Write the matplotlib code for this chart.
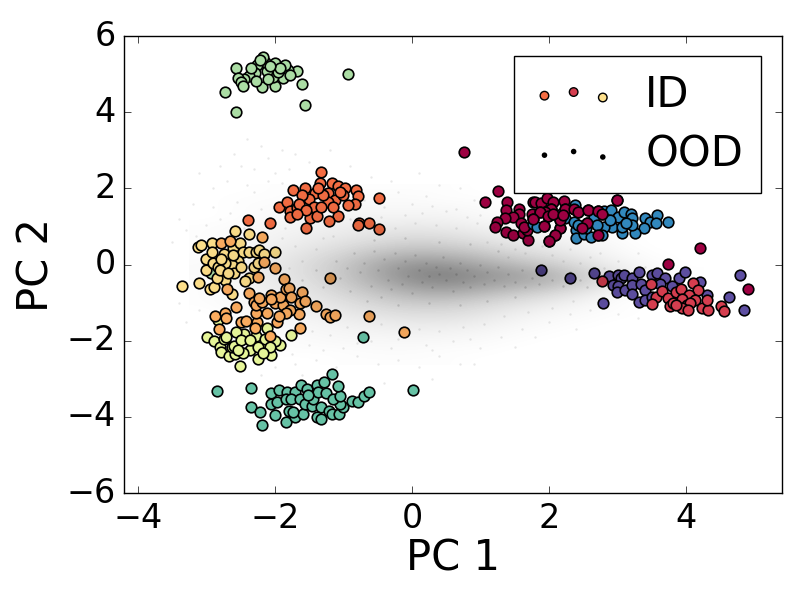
import numpy as np
import matplotlib
matplotlib.use("Agg")
import matplotlib.pyplot as plt
from matplotlib.colors import LinearSegmentedColormap

# pontos, (pc1, pc2) por classe
maroon_pts = [(0.76,2.95),(1.26,1.92),(1.06,1.65),(1.39,1.64),(1.37,1.42),(1.57,1.45),(1.56,1.33),(1.48,1.26),(1.36,1.21),(1.24,1.12),
    (1.22,0.98),(1.37,0.85),(1.47,0.78),(1.62,0.84),(1.70,0.64),(1.68,0.91),(1.59,1.08),(1.63,0.98),(1.75,1.33),(1.76,1.65),
    (1.80,1.63),(1.89,1.61),(1.97,1.76),(2.06,1.65),(2.22,1.66),(2.03,1.47),(1.94,1.37),(1.87,1.39),(1.77,1.19),(1.99,1.27),
    (1.93,1.01),(2.16,0.95),(2.09,0.77),(2.00,0.63),(2.23,1.45),(2.36,1.47),(2.43,1.39),(2.57,1.43),(2.71,1.41),(2.78,1.33),
    (2.99,1.69),(2.55,1.10),(2.48,0.95),(2.72,0.78),(2.16,1.17),(2.06,1.33),(2.21,1.30),(4.20,0.44),(3.73,0.02),(4.91,-0.65)]
red_pts = [(2.78,-0.43),(3.49,-0.50),(3.56,-0.86),(3.51,-1.04),(3.65,-0.69),(3.73,-0.87),(3.76,-1.08),(3.86,-0.71),(3.93,-0.64),(4.10,-0.48),
    (4.17,-0.67),(4.04,-0.80),(3.94,-0.91),(4.13,-0.93),(4.01,-1.06),(4.06,-1.02),(3.94,-1.15),(4.03,-1.20),(4.24,-1.13),(4.32,-1.18),
    (4.31,-0.93),(4.51,-1.09),(4.55,-1.22),(3.81,-1.02),(3.86,-1.06)]
orange_pts = [(-1.32,2.42),(-0.48,1.75),(-2.39,1.17),(-2.07,1.10),(-1.94,1.50),(-1.82,1.64),(-1.73,1.96),(-1.56,2.02),(-1.34,2.13),(-1.16,2.13),
    (-1.08,2.07),(-0.97,2.02),(-0.82,1.96),(-0.78,1.81),(-0.83,1.60),(-0.93,1.56),(-1.08,1.28),(-1.21,1.14),(-1.49,1.21),(-1.54,0.97),
    (-1.78,1.40),(-1.67,1.49),(-1.78,1.26),(-1.42,1.89),(-1.22,1.89),(-1.50,1.71),(-1.43,1.50),(-1.39,1.28),(-1.12,1.69),(-1.22,1.65),
    (-1.32,1.52),(-1.15,1.52),(-1.61,1.82),(-1.64,1.60),(-1.00,1.82),(-1.05,1.91),(-1.29,1.82),(-1.37,2.00),(-1.54,1.43),(-1.68,1.34),
    (-0.77,1.08),(-0.79,1.05),(-0.62,1.08),(-0.48,0.93)]
lightorange_pts = [(-2.79,0.58),(-2.66,0.63),(-2.18,0.73),(-2.16,0.07),(-2.00,-0.09),(-2.25,-0.33),(-1.86,-0.37),(-2.70,-0.65),(-2.37,-0.74),(-2.56,-1.11),
    (-2.87,-1.35),(-2.73,-1.28),(-2.71,-1.39),(-2.82,-1.68),(-2.50,-1.50),(-2.42,-1.47),(-2.26,-1.50),(-2.29,-1.66),(-2.07,-1.87),(-1.63,-1.66),
    (-1.64,-1.29),(-1.97,-1.50),(-2.12,-1.26),(-2.27,-1.27),(-2.31,-0.99),(-2.27,-1.06),(-2.19,-0.99),(-2.23,-0.87),(-2.06,-0.80),(-1.99,-1.02),
    (-1.88,-1.05),(-1.93,-0.85),(-1.84,-0.65),(-1.80,-0.61),(-1.77,-0.85),(-1.60,-0.71),(-1.63,-1.00),(-1.56,-0.96),(-1.78,-1.20),(-1.84,-1.28),
    (-1.94,-1.34),(-2.05,-0.89),(-1.40,-1.09),(-1.26,-1.29),(-1.20,-1.37),(-1.12,-1.33),(-0.62,-1.36),(-0.11,-1.76),(-1.19,-0.34)]
yellow_pts = [(-3.35,-0.55),(-3.11,-0.49),(-2.95,-0.65),(-2.89,-0.58),(-3.12,0.46),(-3.08,0.51),(-2.92,0.56),(-2.58,0.89),(-2.37,0.80),(-3.01,0.16),
    (-2.91,0.34),(-3.00,-0.14),(-2.90,0.03),(-2.74,0.29),(-2.61,0.44),(-2.51,0.56),(-2.46,0.34),(-2.37,0.34),(-2.54,0.10),(-2.63,-0.01),
    (-2.73,0.03),(-2.83,-0.06),(-2.78,0.16),(-2.61,0.25),(-2.59,-0.21),(-2.72,-0.41),(-2.85,-0.36),(-2.49,-0.06),(-2.27,0.34),(-2.23,0.38),
    (-2.16,0.27),(-2.31,-0.06),(-2.24,0.03),(-1.99,0.32),(-2.37,-0.35),(-2.44,-0.42),(-2.63,-0.78),(-2.80,-0.14),(-2.68,-0.23)]
pale_pts = [(-2.99,-1.91),(-2.89,-2.00),(-2.80,-2.16),(-2.79,-2.29),(-2.67,-2.40),(-2.58,-2.35),(-2.24,-2.48),(-2.36,-2.23),(-2.15,-2.20),(-2.06,-2.38),
    (-1.92,-2.11),(-2.00,-2.01),(-2.27,-1.87),(-2.45,-1.81),(-2.57,-1.76),(-2.12,-1.66),(-2.15,-1.94),(-2.74,-1.96),(-2.63,-2.16),(-2.60,-2.13),
    (-2.49,-1.98),(-2.36,-1.98),(-2.24,-2.16),(-2.83,-1.46),(-2.46,-2.33),(-2.71,-1.90),(-2.07,-2.16),(-2.54,-2.23),(-2.17,-2.33),(-1.77,-1.86),(-2.51,-2.67)]
green_pts = [(-2.57,5.15),(-2.73,4.54),(-2.56,4.00),(-1.56,4.19),(-1.61,4.75),(-0.93,4.99),(-1.68,5.08),(-1.81,5.11),(-1.85,5.24),(-1.88,4.91),
    (-2.00,4.70),(-2.02,4.93),(-1.96,5.06),(-2.11,5.09),(-2.14,5.33),(-2.17,5.44),(-2.26,5.24),(-2.29,5.04),(-2.37,4.95),(-2.45,4.86),
    (-2.53,4.91),(-2.49,4.80),(-2.46,4.70),(-2.19,4.65),(-2.28,4.83),(-2.10,4.86),(-2.00,5.28),(-1.93,5.15),(-2.22,5.37),(-2.34,5.15),
    (-1.78,4.98),(-2.07,5.20),(-2.93,-0.23)]
teal_pts = [(-2.85,-3.32),(-2.35,-3.23),(-2.34,-3.74),(-2.21,-3.87),(-2.18,-4.22),(-1.99,-3.94),(-1.84,-4.13),(-2.06,-3.38),(-2.05,-3.65),(-1.94,-3.28),
    (-1.97,-3.60),(-1.82,-3.34),(-1.83,-3.54),(-1.79,-3.84),(-1.71,-4.01),(-1.71,-3.34),(-1.76,-3.52),(-1.63,-3.52),(-1.59,-3.91),(-1.62,-3.15),
    (-1.53,-3.26),(-1.56,-3.65),(-1.46,-3.72),(-1.44,-3.52),(-1.39,-3.15),(-1.28,-3.07),(-1.17,-2.88),(-1.37,-3.34),(-1.26,-3.38),(-1.33,-3.73),
    (-1.38,-4.01),(-1.33,-4.04),(-1.21,-3.84),(-1.16,-3.93),(-1.07,-3.93),(-1.01,-3.75),(-1.05,-3.65),(-1.15,-3.52),(-1.05,-3.45),(-1.08,-3.19),
    (-0.88,-3.58),(-0.79,-3.60),(-0.70,-3.45),(-0.63,-3.35),(0.01,-3.30),(-1.73,-3.87),(-1.51,-3.43),(-0.71,-1.90)]
blue_pts = [(1.76,1.06),(1.83,0.99),(2.18,1.34),(2.23,1.21),(2.38,1.56),(2.39,0.91),(2.40,0.69),(2.51,0.80),(2.62,0.73),(2.65,1.24),
    (2.80,1.41),(2.91,1.43),(3.00,1.26),(3.09,1.39),(3.19,1.34),(3.21,1.21),(3.40,1.21),(3.47,1.12),(3.58,1.30),(3.73,1.11),
    (3.56,1.08),(3.39,0.95),(3.25,0.84),(3.07,0.84),(2.92,0.98),(2.80,1.00),(2.70,1.04),(3.06,0.98),(3.21,1.04),(2.54,0.95),
    (2.36,1.12),(2.43,1.04),(2.89,1.17),(2.77,0.77),(3.13,1.08)]
purple_pts = [(1.88,-0.15),(2.31,-0.35),(2.65,-0.21),(2.79,-1.00),(2.87,-0.29),(3.01,-0.28),(3.05,-0.34),(3.09,-0.26),(2.94,-0.54),(3.00,-0.56),
    (2.99,-0.73),(3.11,-0.67),(3.21,-0.34),(3.21,-0.54),(3.21,-0.76),(3.32,-0.19),(3.34,-0.52),(3.40,-0.67),(3.50,-0.26),(3.57,-0.23),
    (3.70,-0.34),(3.90,-0.35),(3.99,-0.19),(3.80,-0.56),(4.21,-0.45),(4.30,-0.80),(4.62,-0.85),(4.78,-0.26),(4.84,-1.19),(3.31,-0.99),
    (3.40,-0.93),(3.62,-0.50),(3.50,-0.85)]

# ordem de desenho e cores (Spectral)
classes = [
    (maroon_pts, "#9e0142"), (blue_pts, "#3288bd"), (maroon_pts[25:47], "#9e0142"),
    (purple_pts, "#5e4fa2"), (red_pts, "#d53e4f"),
    (green_pts, "#abdda4"), (teal_pts, "#66c2a5"),
    (pale_pts, "#e6f598"), (yellow_pts, "#fee08b"),
    (lightorange_pts, "#fdae61"), (orange_pts, "#f46d43"),
]

# densidade da nuvem OOD (escurecimento estimado, em %)
ood_x = [-3.0, -2.5, -2.0, -1.5, -1.0, -0.5, 0.0, 0.5, 1.0, 1.5, 2.0, 2.5, 3.0, 3.5, 4.0]
ood_y = [2.0, 1.75, 1.5, 1.25, 1.0, 0.75, 0.5, 0.25, 0.0, -0.25, -0.5, -0.75, -1.0, -1.25, -1.5, -1.75, -2.0, -2.25, -2.5]
ood_dens = [
    [0, 0, 1, 1, 1, 1, 1, 1, 0, 0, 0, 0, 0, 0, 0],
    [0, 1, 1, 2, 2, 2, 2, 1, 1, 0, 0, 0, 0, 0, 0],
    [0, 1, 2, 3, 3, 3, 3, 3, 2, 1, 0, 0, 0, 0, 0],
    [0, 1, 3, 4, 5, 5, 5, 5, 3, 2, 1, 0, 0, 0, 0],
    [1, 2, 4, 5, 7, 8, 9, 8, 6, 4, 2, 1, 0, 0, 0],
    [1, 3, 5, 7, 9, 12, 14, 13, 10, 7, 5, 3, 1, 0, 0],
    [1, 3, 6, 9, 13, 18, 21, 20, 16, 11, 8, 5, 2, 0, 0],
    [1, 4, 8, 12, 18, 26, 31, 30, 25, 18, 13, 8, 3, 1, 0],
    [2, 5, 9, 14, 22, 33, 42, 42, 34, 28, 21, 13, 6, 2, 0],
    [2, 5, 9, 14, 22, 34, 46, 50, 43, 37, 30, 20, 9, 3, 1],
    [1, 4, 8, 12, 20, 30, 40, 44, 38, 33, 27, 17, 7, 2, 0],
    [1, 3, 7, 10, 16, 23, 30, 32, 27, 21, 15, 9, 3, 1, 0],
    [1, 3, 5, 8, 12, 17, 21, 21, 17, 12, 8, 4, 1, 0, 0],
    [0, 2, 4, 6, 9, 12, 14, 14, 11, 7, 4, 2, 1, 0, 0],
    [0, 1, 3, 4, 6, 8, 9, 9, 7, 4, 2, 1, 0, 0, 0],
    [0, 1, 2, 3, 4, 5, 6, 5, 4, 2, 1, 0, 0, 0, 0],
    [0, 0, 1, 2, 3, 3, 3, 3, 2, 1, 0, 0, 0, 0, 0],
    [0, 0, 1, 1, 1, 2, 2, 1, 1, 0, 0, 0, 0, 0, 0],
    [0, 0, 0, 0, 1, 1, 1, 1, 0, 0, 0, 0, 0, 0, 0],
]

# pontinhos soltos em volta da nuvem
ood_specks = [(-2.4,3.3),(-2.2,3.1),(-2.6,2.9),(-2.8,2.6),(-3.1,2.4),(-2.5,2.6),(-2.1,2.8),(-1.9,3.0),(-1.7,2.9),(-1.5,2.7),
    (-1.2,3.0),(-2.3,2.5),(-2.0,2.4),(-2.7,2.2),(-2.9,2.0),(-2.4,2.1),(-2.1,2.2),(-1.8,2.5),(-0.9,2.6),(-0.6,2.3),
    (-0.3,2.2),(0.1,2.4),(0.4,2.1),(0.7,2.0),(-0.2,1.9),(0.2,1.8),(0.9,1.7),(-3.2,1.6),(-2.9,1.5),(-3.4,1.2),
    (-2.8,1.2),(-3.3,0.9),(-3.5,0.6),(-1.9,0.7),(-1.7,0.5),(-1.3,0.7),(-0.9,1.2),(-0.4,1.5),(-0.1,1.3),(0.5,1.4),
    (1.1,0.6),(1.5,0.4),(1.9,0.5),(2.3,0.4),(2.6,0.2),(3.0,0.1),(3.3,0.3),(2.2,0.1),(2.8,-0.1),(3.4,-0.05),
    (-3.4,-1.0),(-3.1,-1.2),(-3.3,-1.5),(-2.0,-2.7),(-1.7,-2.6),(-1.4,-2.5),(-1.1,-2.7),(-0.8,-2.4),(-0.5,-2.6),(-0.2,-2.5),
    (0.1,-2.7),(0.4,-2.4),(0.7,-2.6),(-1.0,-2.2),(-0.6,-2.0),(-0.3,-2.2),(0.2,-2.1),(0.6,-2.0),(1.0,-2.2),(1.3,-1.9),
    (1.6,-1.7),(2.0,-1.5),(2.3,-1.3),(2.6,-1.2),(1.8,-1.9),(2.4,-1.7),(3.0,-1.3),(3.3,-1.4),(0.9,-2.6),(-1.5,-2.1),
    (-0.4,-3.1),(0.3,-3.0),(-1.6,-2.9),(-2.2,-2.9),(1.2,1.0),(1.4,0.2),(1.0,1.3),(-1.4,0.4),(-1.6,0.1),(-1.8,-0.1),
    (-2.3,1.9),(-1.9,2.15),(-2.55,1.65),(-2.2,1.45),(-2.65,1.35),(-3.0,1.05),(-2.45,0.95),(-3.15,0.75),(-1.85,0.95),(-1.5,0.85),
    (-1.15,0.75),(-0.85,0.95),(-0.55,1.05),(-0.25,0.95),(0.05,1.1),(0.35,1.05),(0.65,0.95),(0.95,1.1),(-0.7,1.7),(0.0,1.6),
    (0.3,1.55),(0.65,1.45),(-0.45,1.25),(0.15,1.35),(0.8,1.25),(1.3,0.55),(1.65,0.3),(2.05,0.25),(2.45,0.05),(2.75,0.3),
    (-1.45,-1.75),(-1.2,-1.85),(-0.95,-1.65),(-0.7,-1.75),(-0.45,-1.55),(-0.2,-1.95),(0.1,-1.7),(0.4,-1.75),(0.75,-1.65),(1.05,-1.55),
    (1.35,-1.35),(1.7,-1.25),(2.05,-1.15),(2.35,-0.95),(0.85,-1.95),(-0.8,-2.05),(-1.3,-2.25),(-1.75,-2.35),(0.3,-2.25),(1.5,-2.15)]

# graos mais escuros no miolo da nuvem
ood_grain = [(-1.6,-0.4),(-1.4,-0.15),(-1.3,-0.6),(-1.1,0.1),(-1.05,-0.35),(-0.9,-0.7),(-0.85,0.3),(-0.75,-0.2),(-0.7,0.05),(-0.6,-0.55),
    (-0.55,0.35),(-0.5,-0.15),(-0.45,-0.85),(-0.4,0.15),(-0.35,-0.4),(-0.3,-0.65),(-0.25,0.3),(-0.2,-0.1),(-0.15,-0.5),(-0.1,0.1),
    (-0.05,-0.3),(0.0,-0.75),(0.05,0.25),(0.1,-0.15),(0.15,-0.45),(0.2,0.05),(0.25,-0.3),(0.3,-0.6),(0.35,-0.05),(0.4,-0.25),
    (0.45,0.2),(0.5,-0.4),(0.55,-0.1),(0.6,-0.7),(0.65,-0.25),(0.7,0.05),(0.75,-0.45),(0.8,-0.15),(0.85,-0.6),(0.9,-0.3),
    (1.0,0.0),(1.05,-0.5),(1.1,-0.2),(1.2,-0.4),(1.25,-0.05),(1.35,-0.55),(1.4,-0.25),(1.5,-0.45),(1.6,-0.15),(1.65,-0.6),
    (1.75,-0.35),(1.85,-0.5),(1.95,-0.2),(2.05,-0.4),(2.2,-0.55),(2.3,-0.2),(2.45,-0.4),(2.55,-0.6),(-0.95,-0.1),(-0.65,-0.95),
    (-0.2,-1.05),(0.25,-1.0),(0.7,-1.05),(1.1,-0.95),(1.5,-0.85),(-0.55,0.65),(-0.1,0.7),(0.4,0.6),(0.85,0.55),(1.25,0.35)]

xlim = (-4.2, 5.4)
ylim = (-6, 6)
tamanho_id = 58

plt.style.use("classic")
plt.rcParams["font.family"] = "DejaVu Sans"

fig = plt.figure(figsize=(8, 6), dpi=100, facecolor="white")
ax = fig.add_axes([0.155, 0.178, 0.8225, 0.762])

for pts, cor in classes:
    px, py = zip(*pts)
    ax.scatter(px, py, s=tamanho_id, c=cor, edgecolors="black", linewidths=1.2, zorder=2)

# nuvem por cima dos pontos, como no original
cmap_ood = LinearSegmentedColormap.from_list("ood", [(0, 0, 0, 0), (0, 0, 0, 1)])
dx = (ood_x[1] - ood_x[0]) / 2
dy = (ood_y[0] - ood_y[1]) / 2
ax.imshow(np.array(ood_dens) / 100, cmap=cmap_ood, vmin=0, vmax=1, aspect="auto", interpolation="bicubic",
          extent=(ood_x[0] - dx, ood_x[-1] + dx, ood_y[-1] - dy, ood_y[0] + dy), zorder=3)
sx, sy = zip(*ood_specks)
ax.scatter(sx, sy, s=3, c="black", linewidths=0, alpha=0.09, zorder=3)
gx, gy = zip(*ood_grain)
ax.scatter(gx, gy, s=3, c="black", linewidths=0, alpha=0.14, zorder=3)

ax.set_xlim(xlim)
ax.set_ylim(ylim)
ax.set_xticks([-4, -2, 0, 2, 4])
ax.set_yticks([-6, -4, -2, 0, 2, 4, 6])
ax.tick_params(labelsize=24, pad=6, length=5)
ax.set_xlabel("PC 1", fontsize=30, labelpad=2)
ax.set_ylabel("PC 2", fontsize=30, labelpad=6)

# legenda com tres cores
h_id = ax.scatter([], [], s=38, edgecolors="black", linewidths=1)
h_id.set_facecolor(["#f46d43", "#d53e4f", "#fee08b"])
h_ood = ax.scatter([], [], s=16, c="black", linewidths=0)
leg = ax.legend([h_id, h_ood], ["ID", "OOD"], scatterpoints=3, fontsize=30, loc="upper right",
                bbox_to_anchor=(0.9676, 0.956), borderaxespad=0, fancybox=False, handlelength=2.0,
                handletextpad=0.72, labelspacing=0.42, borderpad=0.42)
leg.get_frame().set_edgecolor("black")
leg.get_frame().set_linewidth(1)
leg.set_zorder(5)

fig.savefig("out.png", dpi=100, facecolor="white")
